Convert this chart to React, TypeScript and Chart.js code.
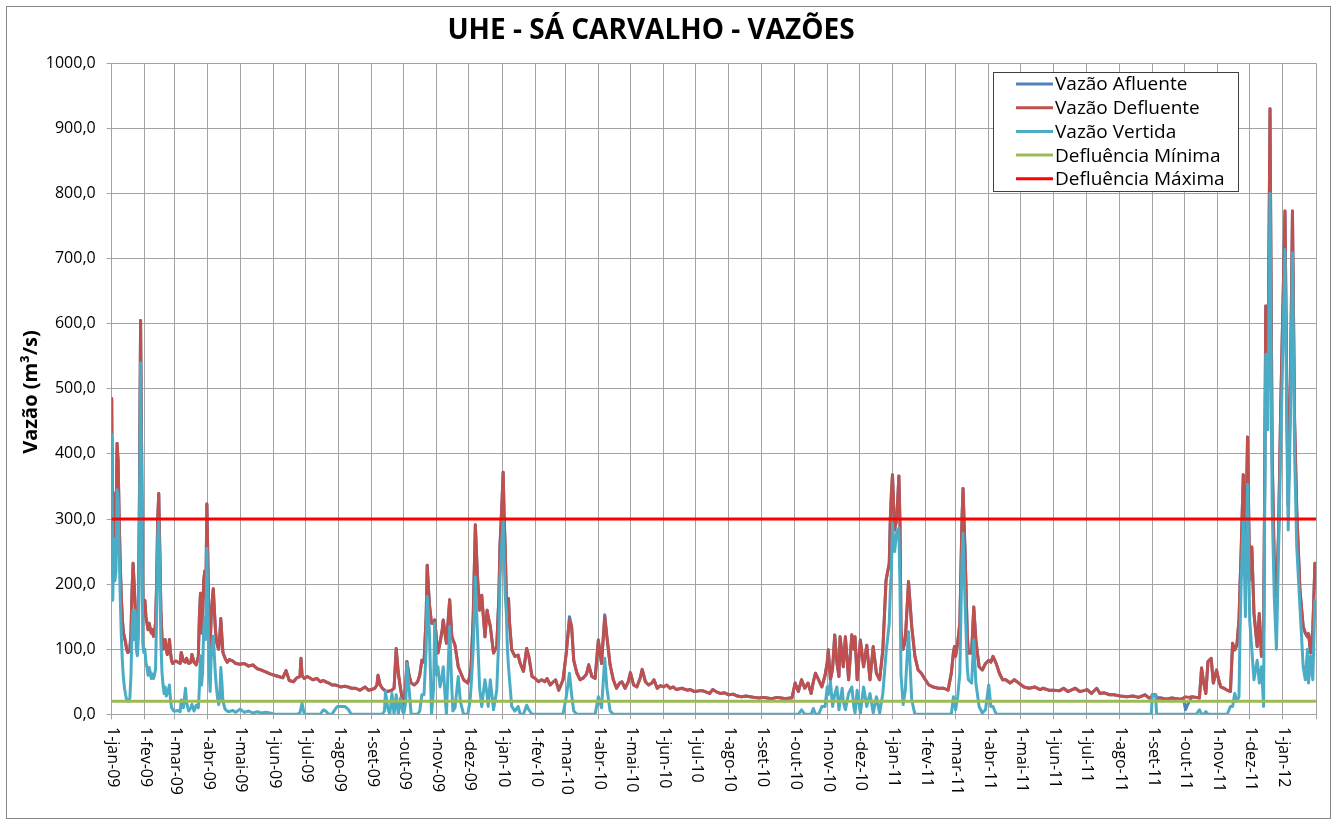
import React, { useEffect, useRef } from 'react';
import { Chart, registerables } from 'chart.js';

Chart.register(...registerables);

const FONT = "'Open Sans', 'DejaVu Sans', sans-serif";

const chartTitle = 'UHE - SÁ CARVALHO - VAZÕES';
const yAxisTitle = 'Vazão (m³/s)';

// day index counted from 1-jan-09
const days = [
  0, 1, 2, 3, 4, 5, 6, 7, 8, 9,
  10, 11, 12, 13, 14, 15, 16, 17, 18, 19,
  20, 21, 22, 23, 24, 25, 26, 27, 28, 29,
  30, 31, 32, 33, 34, 35, 36, 37, 38, 39,
  40, 41, 42, 43, 44, 45, 46, 47, 48, 49,
  50, 51, 52, 53, 54, 55, 56, 57, 58, 60,
  62, 64, 65, 67, 69, 70, 72, 74, 75, 77,
  79, 81, 82, 83, 84, 85, 86, 87, 88, 89,
  90, 91, 92, 93, 94, 95, 96, 97, 98, 99,
  100, 101, 102, 103, 104, 106, 108, 110, 113, 116,
  120, 124, 128, 132, 136, 140, 144, 148, 152, 156,
  160, 163, 166, 170, 173, 176, 177, 178, 180, 183,
  188, 192, 195, 198, 200, 203, 206, 209, 211, 214,
  218, 221, 224, 228, 232, 235, 237, 240, 243, 246,
  248, 249, 251, 253, 255, 256, 258, 260, 262, 264,
  266, 268, 270, 272, 273, 275, 276, 278, 280, 283,
  286, 288, 290, 292, 294, 295, 297, 299, 301, 302,
  304, 305, 307, 309, 310, 312, 313, 316, 318, 319,
  321, 324, 326, 329, 333, 335, 336, 338, 340, 342,
  344, 346, 347, 349, 351, 352, 354, 357, 360, 362,
  363, 365, 366, 367, 368, 369, 370, 371, 372, 374,
  377, 380, 382, 385, 388, 390, 393, 396, 399, 402,
  405, 407, 410, 413, 415, 418, 422, 425, 428, 430,
  432, 435, 438, 441, 444, 446, 449, 452, 455, 458,
  461, 463, 466, 469, 472, 475, 477, 480, 483, 485,
  488, 491, 494, 496, 499, 502, 505, 507, 510, 513,
  516, 519, 522, 525, 528, 533, 538, 541, 545, 549,
  553, 556, 559, 562, 566, 569, 573, 577, 581, 585,
  589, 593, 597, 601, 605, 609, 613, 617, 622, 626,
  630, 634, 636, 639, 642, 645, 648, 651, 654, 656,
  658, 661, 664, 667, 669, 670, 672, 674, 676, 678,
  680, 681, 683, 684, 686, 689, 692, 694, 695, 697,
  700, 703, 706, 709, 712, 715, 718, 721, 724, 727,
  728, 729, 730, 732, 734, 736, 737, 738, 740, 742,
  745, 748, 751, 754, 757, 760, 764, 768, 773, 778,
  782, 785, 787, 788, 789, 791, 793, 795, 796, 798,
  800, 801, 804, 806, 808, 811, 814, 817, 820, 822,
  824, 827, 830, 833, 836, 840, 844, 848, 853, 858,
  863, 868, 871, 876, 881, 886, 890, 894, 898, 901,
  905, 908, 912, 916, 921, 924, 928, 933, 937, 943,
  949, 955, 960, 966, 970, 972, 973, 976, 977, 981,
  986, 991, 996, 999, 1002, 1004, 1006, 1010, 1014, 1017,
  1019, 1021, 1023, 1025, 1028, 1030, 1033, 1035, 1037, 1040,
  1043, 1046, 1048, 1050, 1052, 1054, 1055, 1056, 1058, 1060,
  1062, 1064, 1066, 1068, 1071, 1073, 1075, 1077, 1078, 1079,
  1081, 1083, 1085, 1087, 1089, 1091, 1093, 1097, 1099, 1100,
  1102, 1104, 1106, 1108, 1111, 1114, 1116, 1118, 1119, 1121,
  1123, 1125,
];

const afluente = [
  485, 210, 340, 230, 290, 416, 390, 300, 230, 180,
  145, 125, 118, 110, 100, 95, 96, 100, 125, 190,
  232, 200, 165, 120, 115, 150, 350, 605, 400, 175,
  160, 175, 150, 140, 130, 140, 132, 125, 130, 120,
  125, 140, 200, 300, 339, 250, 160, 120, 100, 110,
  115, 100, 92, 98, 115, 95, 82, 78, 80, 82,
  80, 78, 95, 82, 80, 86, 78, 80, 92, 80,
  76, 88, 150, 186, 125, 150, 205, 220, 180, 323,
  230, 125, 100, 150, 175, 193, 160, 130, 112, 105,
  100, 118, 147, 120, 95, 86, 80, 84, 82, 78,
  77, 78, 74, 76, 70, 68, 65, 62, 60, 58,
  56, 67, 52, 50, 56, 58, 86, 60, 55, 58,
  53, 55, 50, 52, 50, 48, 45, 45, 44, 42,
  43, 42, 40, 40, 37, 40, 42, 37, 38, 40,
  45, 60, 45, 40, 37, 36, 35, 36, 37, 40,
  101, 63, 40, 20, 7, 50, 81, 60, 48, 45,
  50, 60, 83, 80, 150, 229, 170, 140, 140, 145,
  110, 94, 110, 130, 145, 120, 109, 176, 120, 115,
  106, 73, 65, 53, 48, 60, 73, 150, 291, 211,
  160, 183, 160, 119, 160, 150, 135, 94, 104, 180,
  257, 330, 372, 300, 250, 180, 160, 178, 140, 99,
  89, 91, 78, 66, 101, 89, 58, 55, 50, 53,
  50, 55, 45, 50, 53, 37, 53, 94, 150, 135,
  83, 63, 53, 56, 62, 76, 58, 55, 114, 78,
  153, 119, 76, 53, 40, 48, 50, 40, 50, 64,
  45, 42, 55, 69, 50, 45, 48, 53, 40, 44,
  42, 45, 40, 42, 38, 40, 37, 38, 35, 36,
  36, 34, 32, 38, 34, 32, 33, 30, 31, 28,
  27, 28, 27, 26, 25, 26, 25, 24, 26, 25,
  24, 25, 25, 48, 35, 53, 40, 48, 32, 50,
  63, 53, 42, 60, 80, 99, 53, 70, 122, 80,
  58, 119, 90, 73, 119, 53, 122, 100, 119, 53,
  114, 73, 106, 53, 104, 63, 53, 99, 206, 232,
  300, 340, 368, 283, 300, 366, 298, 130, 100, 114,
  204, 135, 89, 68, 63, 55, 45, 42, 40, 40,
  37, 63, 95, 104, 89, 110, 140, 300, 347, 242,
  120, 94, 94, 165, 114, 73, 68, 78, 83, 80,
  89, 78, 63, 53, 53, 48, 53, 48, 42, 40,
  42, 38, 40, 37, 37, 36, 40, 35, 38, 40,
  35, 36, 38, 32, 40, 32, 33, 30, 30, 28,
  27, 28, 26, 30, 25, 26, 30, 30, 25, 25,
  23, 25, 24, 23, 25, 7, 15, 27, 26, 25,
  71, 48, 32, 81, 86, 48, 68, 53, 42, 40,
  37, 35, 109, 99, 106, 145, 200, 250, 368, 240,
  426, 206, 257, 155, 104, 155, 89, 130, 350, 627,
  500, 930, 400, 230, 180, 280, 471, 773, 450, 320,
  500, 773, 450, 314, 191, 135, 125, 119, 124, 94,
  130, 232,
];

const defluente = [
  485, 210, 340, 230, 290, 416, 390, 300, 230, 180,
  145, 125, 118, 110, 100, 95, 96, 100, 125, 190,
  232, 200, 165, 120, 115, 150, 350, 605, 400, 175,
  160, 175, 150, 140, 130, 140, 132, 125, 130, 120,
  125, 140, 200, 300, 339, 250, 160, 120, 100, 110,
  115, 100, 92, 98, 115, 95, 82, 78, 80, 82,
  80, 78, 95, 82, 80, 86, 78, 80, 92, 80,
  76, 88, 150, 186, 125, 150, 205, 220, 180, 323,
  230, 125, 100, 150, 175, 193, 160, 130, 112, 105,
  100, 118, 147, 120, 95, 86, 80, 84, 82, 78,
  77, 78, 74, 76, 70, 68, 65, 62, 60, 58,
  56, 67, 52, 50, 56, 58, 86, 60, 55, 58,
  53, 55, 50, 52, 50, 48, 45, 45, 44, 42,
  43, 42, 40, 40, 37, 40, 42, 37, 38, 40,
  45, 60, 45, 40, 37, 36, 35, 36, 37, 40,
  101, 63, 40, 20, 7, 50, 81, 60, 48, 45,
  50, 60, 83, 80, 150, 229, 170, 140, 140, 145,
  110, 94, 110, 130, 145, 120, 109, 176, 120, 115,
  106, 73, 65, 53, 48, 60, 73, 150, 291, 211,
  160, 183, 160, 119, 160, 150, 135, 94, 104, 180,
  257, 330, 372, 300, 250, 180, 160, 178, 140, 99,
  89, 91, 78, 66, 101, 89, 58, 55, 50, 53,
  50, 55, 45, 50, 53, 37, 53, 94, 145, 135,
  83, 63, 53, 56, 62, 76, 58, 55, 114, 78,
  150, 119, 76, 53, 40, 48, 50, 40, 50, 64,
  45, 42, 55, 69, 50, 45, 48, 53, 40, 44,
  42, 45, 40, 42, 38, 40, 37, 38, 35, 36,
  36, 34, 32, 38, 34, 32, 33, 30, 31, 28,
  27, 28, 27, 26, 25, 26, 25, 24, 26, 25,
  24, 25, 25, 48, 35, 53, 40, 48, 32, 50,
  63, 53, 42, 60, 80, 99, 53, 70, 122, 80,
  58, 119, 90, 73, 119, 53, 122, 100, 119, 53,
  114, 73, 106, 53, 104, 63, 53, 99, 206, 232,
  300, 340, 368, 283, 300, 366, 298, 130, 100, 114,
  204, 135, 89, 68, 63, 55, 45, 42, 40, 40,
  37, 63, 95, 104, 89, 110, 140, 300, 347, 242,
  120, 94, 94, 165, 114, 73, 68, 78, 83, 80,
  89, 78, 63, 53, 53, 48, 53, 48, 42, 40,
  42, 38, 40, 37, 37, 36, 40, 35, 38, 40,
  35, 36, 38, 32, 40, 32, 33, 30, 30, 28,
  27, 28, 26, 30, 25, 26, 30, 30, 25, 25,
  23, 25, 24, 23, 25, 27, 26, 27, 26, 25,
  71, 48, 32, 81, 86, 48, 68, 53, 42, 40,
  37, 35, 109, 99, 106, 145, 200, 250, 368, 240,
  426, 206, 257, 155, 104, 155, 89, 130, 350, 627,
  500, 930, 400, 230, 180, 280, 471, 773, 450, 320,
  500, 773, 450, 314, 191, 135, 125, 119, 124, 94,
  130, 232,
];

const vertida = [
  430, 175, 270, 205, 220, 345, 330, 250, 180, 120,
  80, 55, 40, 30, 22, 20, 20, 25, 60, 130,
  160, 115, 160, 100, 90, 120, 300, 540, 350, 110,
  95, 100, 80, 72, 60, 72, 65, 55, 62, 55,
  60, 70, 150, 270, 300, 220, 110, 65, 45, 32,
  42, 28, 32, 38, 45, 22, 10, 8, 5, 5,
  6, 4, 22, 10, 40, 18, 5, 10, 15, 5,
  14, 10, 40, 90, 45, 65, 130, 150, 115, 255,
  160, 70, 35, 85, 110, 120, 90, 60, 40, 25,
  15, 22, 72, 50, 20, 8, 5, 4, 6, 3,
  8, 3, 5, 2, 4, 2, 3, 2, 0, 0,
  0, 0, 0, 0, 0, 2, 10, 17, 0, 0,
  0, 0, 0, 7, 5, 0, 0, 8, 12, 12,
  12, 8, 0, 0, 0, 0, 0, 0, 0, 0,
  0, 0, 0, 0, 5, 35, 10, 0, 32, 0,
  30, 0, 25, 5, 0, 20, 78, 40, 0, 0,
  0, 5, 30, 30, 100, 181, 130, 0, 40, 140,
  60, 73, 42, 60, 73, 20, 0, 135, 40, 5,
  10, 58, 20, 0, 0, 20, 42, 100, 211, 124,
  40, 12, 27, 53, 30, 12, 53, 7, 37, 120,
  207, 270, 300, 240, 181, 155, 100, 73, 53, 12,
  5, 12, 0, 0, 14, 7, 0, 0, 0, 0,
  0, 0, 0, 0, 0, 0, 0, 27, 63, 30,
  5, 0, 0, 0, 0, 0, 0, 0, 27, 10,
  86, 40, 5, 0, 0, 0, 0, 0, 0, 0,
  0, 0, 0, 0, 0, 0, 0, 0, 0, 0,
  0, 0, 0, 0, 0, 0, 0, 0, 0, 0,
  0, 0, 0, 0, 0, 0, 0, 0, 0, 0,
  0, 0, 0, 0, 0, 0, 0, 0, 0, 0,
  0, 0, 0, 0, 0, 7, 0, 0, 0, 9,
  0, 0, 12, 12, 42, 30, 50, 12, 30, 42,
  7, 20, 40, 20, 7, 32, 42, 10, 2, 37,
  2, 42, 12, 32, 2, 27, 2, 32, 94, 140,
  190, 222, 293, 250, 280, 286, 200, 60, 15, 37,
  127, 22, 0, 0, 0, 0, 0, 0, 0, 0,
  0, 0, 27, 20, 7, 27, 63, 240, 278, 165,
  70, 53, 48, 114, 48, 12, 2, 7, 45, 12,
  12, 0, 0, 0, 0, 0, 0, 0, 0, 0,
  0, 0, 0, 0, 0, 0, 0, 0, 0, 0,
  0, 0, 0, 0, 0, 0, 0, 0, 0, 0,
  0, 0, 0, 0, 0, 0, 30, 30, 0, 0,
  0, 0, 0, 0, 0, 0, 0, 0, 0, 7,
  0, 0, 4, 0, 0, 0, 0, 0, 0, 0,
  0, 12, 12, 32, 20, 27, 130, 200, 300, 150,
  353, 145, 99, 53, 83, 48, 73, 12, 300, 553,
  437, 800, 320, 180, 100, 250, 409, 714, 400, 283,
  450, 709, 400, 257, 165, 73, 53, 100, 48, 89,
  53, 175,
];

const limitDays = [0, 1126];
const defluenciaMinima = [20, 20];
const defluenciaMaxima = [300, 300];

const tickDays = [
  0, 31, 59, 90, 120, 151, 181, 212, 243, 273, 304, 334,
  365, 396, 424, 455, 485, 516, 546, 577, 608, 638, 669, 699,
  730, 761, 789, 820, 850, 881, 911, 942, 973, 1003, 1034, 1064,
  1095, 1126,
];
const tickLabels = [
  '1-jan-09', '1-fev-09', '1-mar-09', '1-abr-09', '1-mai-09', '1-jun-09', '1-jul-09', '1-ago-09', '1-set-09', '1-out-09', '1-nov-09', '1-dez-09',
  '1-jan-10', '1-fev-10', '1-mar-10', '1-abr-10', '1-mai-10', '1-jun-10', '1-jul-10', '1-ago-10', '1-set-10', '1-out-10', '1-nov-10', '1-dez-10',
  '1-jan-11', '1-fev-11', '1-mar-11', '1-abr-11', '1-mai-11', '1-jun-11', '1-jul-11', '1-ago-11', '1-set-11', '1-out-11', '1-nov-11', '1-dez-11',
  '1-jan-12', '',
];

const seriesNames = ['Vazão Afluente', 'Vazão Defluente', 'Vazão Vertida', 'Defluência Mínima', 'Defluência Máxima'];
const seriesColors = ['#4F81BD', '#C0504D', '#4BACC6', '#9BBB59', '#FF0000'];

const GRID = '#a3a3a3';

const overlayPlugin = {
  id: 'overlay',
  afterDraw(chart: any) {
    const ctx = chart.ctx as CanvasRenderingContext2D;
    const xs = chart.scales.x;
    ctx.save();
    // outer border
    ctx.strokeStyle = '#868686';
    ctx.lineWidth = 1;
    ctx.strokeRect(6.5, 6.5, 1324, 812);

    // title
    ctx.fillStyle = '#000';
    ctx.font = `bold 28px ${FONT}`;
    ctx.textAlign = 'center';
    ctx.textBaseline = 'alphabetic';
    ctx.fillText(chartTitle, 651, 38.5);

    // y axis title
    ctx.save();
    ctx.translate(31, 392);
    ctx.rotate(-Math.PI / 2);
    ctx.font = `bold 20px ${FONT}`;
    ctx.textAlign = 'center';
    ctx.textBaseline = 'middle';
    ctx.fillText(yAxisTitle, 0, 0);
    ctx.restore();

    // x tick labels (rotated, reading top to bottom)
    ctx.font = `16px ${FONT}`;
    ctx.textAlign = 'left';
    ctx.textBaseline = 'middle';
    tickDays.forEach((d, i) => {
      const lab = tickLabels[i];
      if (!lab) return;
      const x = xs.getPixelForValue(d);
      ctx.save();
      ctx.translate(x + 1, 727);
      ctx.rotate(Math.PI / 2);
      ctx.fillText(lab, 0, 0);
      ctx.restore();
    });

    // legend
    const lx = 993.5, ly = 72.5, lw = 245, lh = 119;
    ctx.fillStyle = '#fff';
    ctx.fillRect(lx, ly, lw, lh);
    ctx.strokeStyle = '#404040';
    ctx.lineWidth = 1;
    ctx.strokeRect(lx, ly, lw, lh);
    ctx.font = `19px ${FONT}`;
    ctx.textAlign = 'left';
    ctx.textBaseline = 'middle';
    seriesNames.forEach((name, i) => {
      const y = 84 + i * 23.7;
      ctx.strokeStyle = seriesColors[i];
      ctx.lineWidth = 3;
      ctx.beginPath();
      ctx.moveTo(1016, y);
      ctx.lineTo(1053, y);
      ctx.stroke();
      ctx.fillStyle = '#000';
      ctx.fillText(name, 1055, y + 1);
    });
    ctx.restore();
  },
};

export default function App() {
  const canvasRef = useRef<HTMLCanvasElement | null>(null);

  useEffect(() => {
    const canvas = canvasRef.current;
    if (!canvas) return;
    const pts = (vals: number[]) => days.map((d, i) => ({ x: d, y: vals[i] }));
    const lim = (vals: number[]) => limitDays.map((d, i) => ({ x: d, y: vals[i] }));
    const chart = new Chart(canvas, {
      type: 'line',
      data: {
        datasets: [
          { label: seriesNames[0], data: pts(afluente), borderColor: seriesColors[0], order: 4 },
          { label: seriesNames[1], data: pts(defluente), borderColor: seriesColors[1], order: 3 },
          { label: seriesNames[2], data: pts(vertida), borderColor: seriesColors[2], order: 2 },
          { label: seriesNames[3], data: lim(defluenciaMinima), borderColor: seriesColors[3], order: 1 },
          { label: seriesNames[4], data: lim(defluenciaMaxima), borderColor: seriesColors[4], order: 0 },
        ],
      },
      options: {
        responsive: false,
        animation: false,
        devicePixelRatio: 1,
        parsing: false,
        normalized: true,
        layout: { padding: { left: 31.7, right: 22, top: 63.3, bottom: 70.7 } },
        elements: {
          point: { radius: 0, hoverRadius: 0 },
          line: { tension: 0, borderWidth: 3, borderJoinStyle: 'round', borderCapStyle: 'round', fill: false },
        },
        plugins: {
          legend: { display: false },
          tooltip: { enabled: false },
          title: { display: false },
        },
        scales: {
          x: {
            type: 'linear',
            min: 0,
            max: 1126,
            afterBuildTicks: (s: any) => {
              s.ticks = tickDays.map((v) => ({ value: v }));
            },
            afterFit: (s: any) => {
              s.height = 40;
            },
            ticks: { display: false },
            grid: { color: GRID, lineWidth: 1, tickLength: 5, drawTicks: true },
            border: { color: GRID },
          },
          y: {
            min: 0,
            max: 1000,
            ticks: {
              stepSize: 100,
              color: '#000',
              padding: 11,
              font: { family: FONT, size: 16 },
              callback: (v: any) => Number(v).toFixed(1).replace('.', ','),
            },
            afterFit: (s: any) => {
              s.width = 80;
            },
            grid: { color: GRID, lineWidth: 1, tickLength: 5, drawTicks: true },
            border: { color: GRID },
          },
        },
      },
      plugins: [overlayPlugin],
    } as any);
    return () => chart.destroy();
  }, []);

  return (
    <div style={{ position: 'absolute', left: 0, top: 0, width: 1338, height: 825, background: '#fff' }}>
      <canvas ref={canvasRef} width={1338} height={825} style={{ display: 'block' }} />
    </div>
  );
}
